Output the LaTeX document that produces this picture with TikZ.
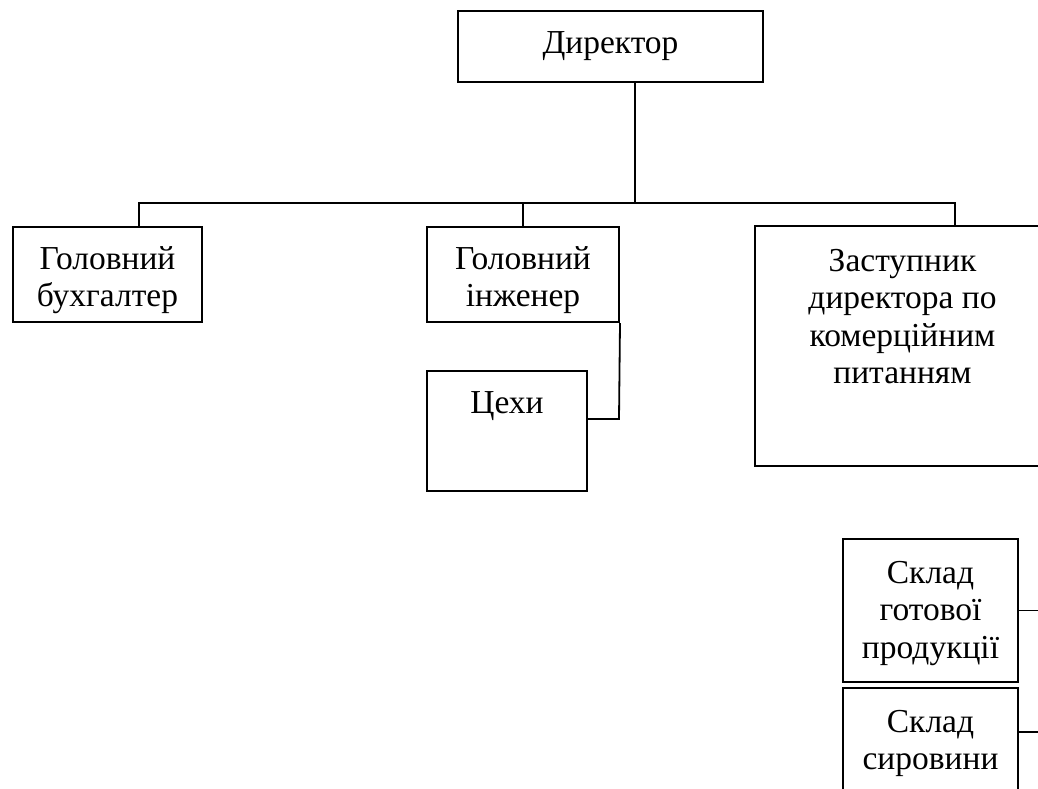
\documentclass[tikz,border=0pt]{standalone}
\usepackage{fontspec}
\setmainfont{Liberation Serif}
\begin{document}
\begin{tikzpicture}[x=1pt,y=-1pt,
  box/.style={draw, line width=2pt, inner sep=0pt},
  lbl/.style={anchor=north, align=center, inner sep=0pt, font=\fontsize{33.5}{37.5}\selectfont},
  wire/.style={line width=1.8pt}]
\clip (0,0) rectangle (1038,789);
\fill[white] (0,0) rectangle (1038,789);
% boxes
\node[box, minimum width=305pt, minimum height=71pt] (dir) at (610.5,46.5) {};
\node[box, minimum width=189pt, minimum height=95pt] (bh) at (107.5,274.5) {};
\node[box, minimum width=192pt, minimum height=95pt] (ing) at (523,274.5) {};
\node[box, minimum width=160pt, minimum height=120pt] (cex) at (507,431) {};
\node[box, minimum width=295pt, minimum height=240pt] (zast) at (902.5,346) {};
\node[box, minimum width=175pt, minimum height=143pt] (sk1) at (930.5,610.5) {};
\node[box, minimum width=175pt, minimum height=130pt] (sk2) at (930.5,753) {};
% texts
\node[lbl] (dirt) at ([yshift=-21pt]dir.north) {Директор};
\node[lbl] (bht) at ([yshift=-20pt]bh.north) {Головний\\бухгалтер};
\node[lbl] (ingt) at ([yshift=-20pt]ing.north) {Головний\\інженер};
\node[lbl] (cext) at ([yshift=-21pt]cex.north) {Цехи};
\node[lbl] (zastt) at ([yshift=-24pt]zast.north) {Заступник\\директора по\\комерційним\\питанням};
\node[lbl] (sk1t) at ([yshift=-23pt]sk1.north) {Склад\\готової\\продукції};
\node[lbl] (sk2t) at ([yshift=-23pt]sk2.north) {Склад\\сировини};
% connector coordinates
\coordinate (bus) at (635,203);
\coordinate (bl) at (139,203);
\coordinate (br) at (955,203);
\coordinate (ce) at (619,419);
\coordinate (rr) at (1045,0);
\coordinate (s2) at (1018,732);
% connectors
\draw[wire] (dir.south -| bus) -- (bus);
\draw[wire] (bl |- bh.north) -- (bl) -- (br) -- (br |- zast.north);
\draw[wire] (ing.north) -- (ing.north |- bl);
\draw[wire] (ing.south east) -- (ce) -- (ce -| cex.east);
\draw[wire] (sk1.east) -- (sk1.east -| rr);
\draw[wire] (s2) -- (s2 -| rr);
\end{tikzpicture}
\end{document}
